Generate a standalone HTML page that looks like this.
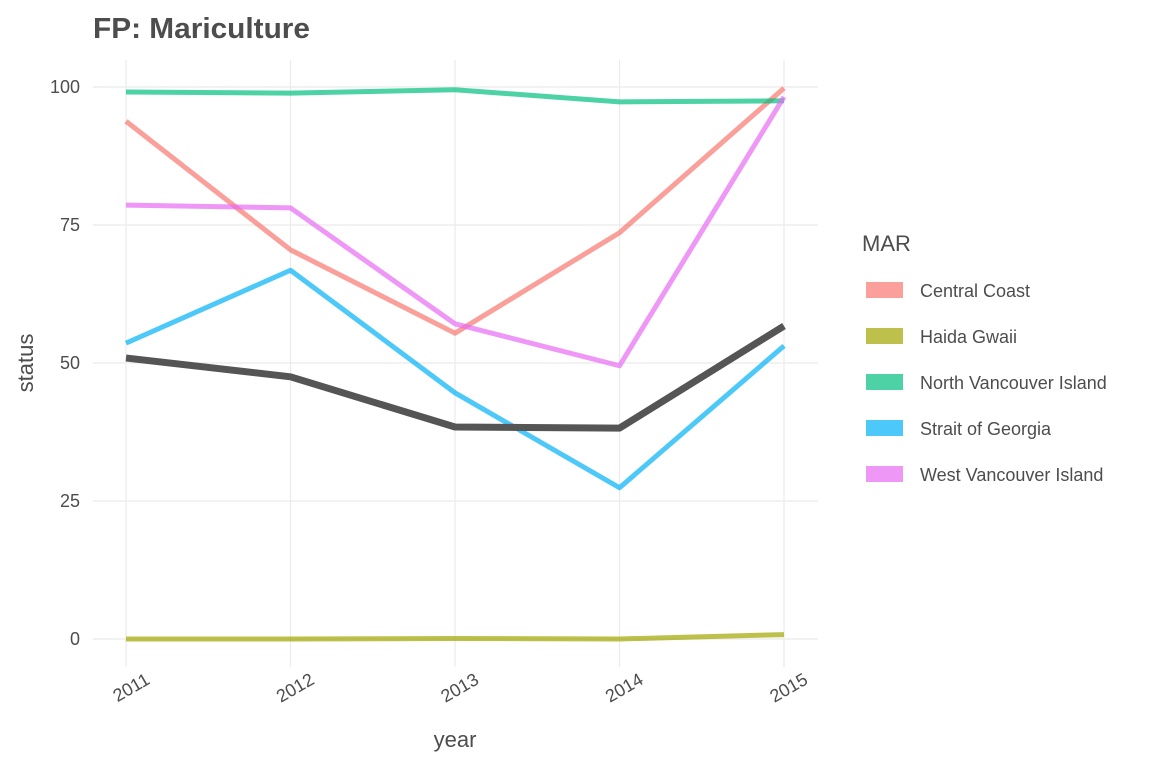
<!DOCTYPE html>
<html><head><meta charset="utf-8"><style>
body{margin:0;background:#fff;font-family:"Liberation Sans",sans-serif}
svg text{font-family:"Liberation Sans",sans-serif}
</style></head><body>
<svg id="chart" width="1152" height="768" viewBox="0 0 1152 768" xmlns="http://www.w3.org/2000/svg">
<text x="93" y="38" font-size="29" font-weight="bold" fill="#4d4d4d" textLength="217" lengthAdjust="spacingAndGlyphs">FP: Mariculture</text>
<g id="grid"></g>
<g id="series"></g>
<g id="axes"></g>
<text x="455" y="747" font-size="22" fill="#4d4d4d" text-anchor="middle">year</text>
<text transform="translate(33,363) rotate(-90)" font-size="22" fill="#4d4d4d" text-anchor="middle">status</text>
<text x="862" y="251" font-size="22" fill="#4d4d4d">MAR</text>
<g id="legend"></g>
</svg>
<script>
const years = [2011, 2012, 2013, 2014, 2015];
const yTicks = [0, 25, 50, 75, 100];
const seriesNames = ["Central Coast", "Haida Gwaii", "North Vancouver Island", "Strait of Georgia", "West Vancouver Island"];
const centralCoast = [93.8, 70.5, 55.4, 73.6, 99.8];
const haidaGwaii = [0, 0, 0.1, 0, 0.8];
const northVI = [99.1, 98.9, 99.5, 97.3, 97.5];
const straitGeorgia = [53.6, 66.8, 44.6, 27.4, 53.1];
const westVI = [78.6, 78.1, 57.1, 49.5, 98.2];
const overall = [50.9, 47.5, 38.4, 38.2, 56.7];
const seriesColors = ["#F8766D", "#A3A500", "#00BF7D", "#00B0F6", "#E76BF3"];

const NS = "http://www.w3.org/2000/svg";
const x = v => 126 + (v - 2011) * (784 - 126) / 4;
const y = v => 639 - v * 5.52;
function mk(tag, attrs, parent){const e=document.createElementNS(NS,tag);for(const k in attrs)e.setAttribute(k,attrs[k]);parent.appendChild(e);return e;}
const grid=document.getElementById('grid'), ser=document.getElementById('series'), axes=document.getElementById('axes'), leg=document.getElementById('legend');

yTicks.forEach(t=>{
  const l=mk('line',{x1:93,x2:818,y1:y(t),y2:y(t),stroke:'#ebebeb','stroke-width':1.2},grid);
  
  
  const tx=mk('text',{x:80,y:y(t)+6,'font-size':18,fill:'#4d4d4d','text-anchor':'end'},axes);
  tx.textContent=t;
  
  
});
years.forEach(yr=>{
  const l=mk('line',{x1:x(yr),x2:x(yr),y1:60,y2:667,stroke:'#ebebeb','stroke-width':1.2},grid);
  
  
  const tx=mk('text',{transform:`translate(${x(yr)+25},${683}) rotate(-30)`,'font-size':18,fill:'#4d4d4d','text-anchor':'end'},axes);
  tx.textContent=yr;
  
  
});

const allSeries=[centralCoast,haidaGwaii,northVI,straitGeorgia,westVI];
allSeries.forEach((vals,i)=>{
  const p=mk('polyline',{points:vals.map((v,j)=>x(years[j])+','+y(v)).join(' '),fill:'none',stroke:seriesColors[i],'stroke-width':5,'stroke-opacity':0.7,'stroke-linejoin':'round'},ser);
  
  
  const r=mk('rect',{x:866,y:282+i*46,width:37,height:16,fill:seriesColors[i],'fill-opacity':0.7},leg);
  
  
  const t=mk('text',{x:920,y:297+i*46,'font-size':18,fill:'#4d4d4d'},leg);
  t.textContent=seriesNames[i];
  
  
});
const o=mk('polyline',{points:overall.map((v,j)=>x(years[j])+','+y(v)).join(' '),fill:'none',stroke:'#555555','stroke-width':7,'stroke-linejoin':'round'},ser);


</script>
</body></html>
